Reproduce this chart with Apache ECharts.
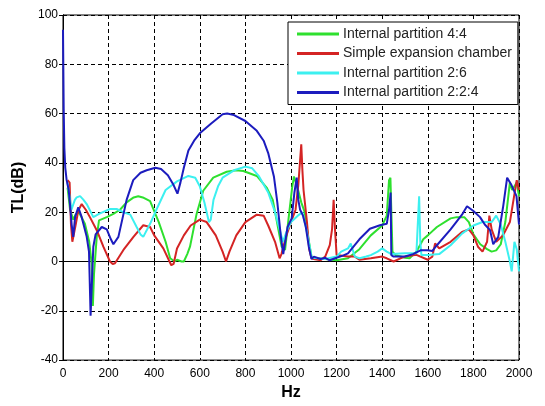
<!DOCTYPE html>
<html><head><meta charset="utf-8">
<script src="https://cdn.jsdelivr.net/npm/echarts@6/dist/echarts.min.js"></script>
<style>html,body{margin:0;padding:0;background:#fff}#c{width:545px;height:406px}</style>
</head><body><div id="c"></div>
<script>
const seriesNames = ['Internal partition 4:4','Simple expansion chamber','Internal partition 2:6','Internal partition 2:2:4'];
const xTicks = [0,200,400,600,800,1000,1200,1400,1600,1800,2000];
const yTicks = [-40,-20,0,20,40,60,80,100];

const green44 = [[20,30],[31,21],[45,17],[55,19],[70,20],[96,15.3],[115,8],[126,-1],[131,-18],[136,-5],[148,10],[158,16.7],[192,18],[221,19.3],[250,21],[279,24],[310,26],[330,26.5],[350,26],[382,24.5],[420,16],[450,8],[470,1.3],[490,0],[500,0.7],[520,0],[530,0],[545,3],[557,6],[586,19.3],[615,28.7],[659,34],[718,36.4],[760,37],[791,36.7],[850,34.7],[893,30],[920,25],[937,16.7],[959,6],[974,4.7],[990,18],[1005,30],[1013,34.5],[1020,34.7],[1032,28.7],[1045,24],[1060,20],[1075,10],[1090,2],[1100,1.5],[1150,1],[1200,0.5],[1250,1.3],[1300,5],[1350,10.6],[1400,14.6],[1420,18.6],[1430,33],[1436,34],[1445,4],[1460,2.5],[1500,1.5],[1520,1.3],[1550,4],[1580,9],[1600,10.6],[1640,14],[1700,17.5],[1727,18],[1760,18],[1780,16],[1800,11],[1830,7],[1860,5],[1880,4],[1900,4.5],[1920,7],[1940,16],[1960,32],[1970,29],[1990,32],[2000,26.5]];

const redSimple = [[20,33],[29,32],[35,15],[41,8],[47,7.3],[55,14.6],[67,20.7],[82,23.3],[100,21],[118,18],[148,12.7],[177,6],[206,0],[218,-1],[228,-0.7],[265,4.7],[309,10],[352,14.7],[382,14],[400,10.6],[440,5.3],[462,1],[475,-1.5],[485,-1],[500,5.3],[530,10.6],[560,14.6],[600,17],[630,16],[670,10.6],[700,4],[715,0],[730,4],[760,10.6],[800,16],[850,19],[880,18.6],[900,14.6],[930,8],[950,1.3],[958,3],[980,10.6],[1000,16],[1020,21],[1032,31],[1045,47.5],[1050,37],[1055,29],[1070,16],[1080,5],[1090,1.3],[1100,1],[1130,0.5],[1150,2],[1170,6.6],[1180,13],[1187,25],[1193,13],[1200,2.6],[1250,2],[1280,2],[1300,0.7],[1350,1.3],[1400,2],[1420,1.3],[1450,0],[1480,1.3],[1500,2],[1550,2.7],[1600,0.7],[1620,2],[1632,7.3],[1640,8],[1650,5.3],[1700,8],[1750,12],[1780,13],[1800,10.6],[1820,6],[1840,4],[1860,8],[1870,18.6],[1880,13],[1900,8],[1930,10.6],[1960,16],[1990,33],[2000,29]];

const cyan26 = [[20,32],[37,21],[52,25],[60,26],[75,26.5],[90,25],[104,23.3],[133,18],[158,19.3],[206,21.3],[235,21.3],[265,20],[295,19],[323,14],[340,11],[352,10],[382,15.3],[411,21.3],[450,29],[500,32.5],[550,34.7],[580,34],[600,30.5],[620,24],[640,16],[648,17],[660,25],[680,30.5],[700,34],[750,37],[800,38.5],[830,37.8],[860,34.5],[900,28],[930,20],[950,13],[965,8],[980,12],[1000,16],[1030,18.6],[1050,20],[1070,12],[1090,2],[1100,1.5],[1150,1],[1200,2],[1220,4],[1250,5.3],[1262,7.3],[1280,2],[1300,1.3],[1330,2],[1350,2.6],[1380,4],[1400,5.3],[1420,4],[1440,3],[1500,3.3],[1550,3.3],[1562,26.5],[1567,8],[1572,2.6],[1600,2.6],[1650,3],[1700,6.6],[1750,11.3],[1800,14.6],[1840,16],[1880,16],[1900,18.6],[1920,15],[1940,8],[1960,0],[1968,-4],[1980,8],[1990,5],[2000,-4]];

const blue224 = [[0,94],[3,62],[6,46],[10,38],[16,33],[25,29],[31,23],[38,15],[45,10],[53,18],[67,22],[82,18],[104,10],[114,4],[121,-22],[127,-8],[133,6],[143,11],[170,14],[192,13],[210,9],[221,7],[243,10],[279,25],[308,33],[340,36],[367,37],[405,38],[430,37.5],[460,35],[485,31],[502,27.5],[515,32],[530,38],[550,45],[575,49],[600,52],[650,56],[700,59.7],[720,60],[750,59.4],[800,57],[850,53],[880,49],[900,44],[925,34.5],[940,24],[955,10.6],[966,3],[985,14],[1003,17.5],[1015,28],[1025,34],[1032,25],[1040,21],[1053,18.5],[1065,14],[1078,6],[1090,1],[1100,2],[1130,1],[1150,1.5],[1170,0.5],[1200,1.5],[1230,2.5],[1250,3.3],[1300,9],[1346,13.3],[1390,14.7],[1420,15.3],[1430,21],[1437,28],[1440,2.6],[1450,2],[1500,2],[1535,3],[1570,4.6],[1600,4.6],[1620,4.3],[1640,6.6],[1700,13],[1750,19],[1772,22.4],[1800,20.5],[1829,18],[1850,15],[1873,12.7],[1887,7],[1909,10],[1930,22],[1948,34],[1967,31],[1989,26.5],[2000,15]];

const dataSets = [green44, redSimple, cyan26, blue224];
const colors = ['#2ee02e','#d42424','#3cf0f0','#1c1cbe'];

const chart = echarts.init(document.getElementById('c'));
const font = 'Liberation Sans, Arial, sans-serif';
const gridLine = {show:true, lineStyle:{color:'#000', type:[4,3], width:1}};
chart.setOption({
  animation:false,
  backgroundColor:'#fff',
  grid:{left:63, right:26, top:15, bottom:41, show:true, borderColor:'#000', borderWidth:1, backgroundColor:'#fff'},
  legend:{
    data:seriesNames, orient:'vertical', left:288, top:22,
    backgroundColor:'#fff', borderColor:'#000', borderWidth:1,
    padding:[5,6,5,9], itemGap:5.5, itemWidth:42, itemHeight:3, icon:'rect',
    textStyle:{fontSize:14, color:'#222', fontFamily:font, padding:[0,0,0,-1]}
  },
  xAxis:[{
    type:'value', min:xTicks[0], max:xTicks[xTicks.length-1], interval:200,
    name:'Hz', nameLocation:'middle', nameGap:24,
    nameTextStyle:{fontSize:16, fontWeight:'bold', color:'#000', fontFamily:font},
    axisLine:{show:true, lineStyle:{color:'#000'}},
    axisTick:{show:true, inside:true, length:4, lineStyle:{color:'#000'}},
    axisLabel:{fontSize:12, color:'#000', margin:8, fontFamily:font, formatter:v=>String(v)},
    splitLine:gridLine
  },{
    type:'value', position:'top', min:xTicks[0], max:xTicks[xTicks.length-1], interval:200,
    axisLine:{show:true, lineStyle:{color:'#000'}},
    axisTick:{show:true, inside:true, length:4, lineStyle:{color:'#000'}},
    axisLabel:{show:false}, splitLine:{show:false}
  }],
  yAxis:[{
    type:'value', min:yTicks[0], max:yTicks[yTicks.length-1], interval:20,
    name:'TL(dB)', nameLocation:'middle', nameGap:34, nameRotate:90,
    nameTextStyle:{fontSize:16, fontWeight:'bold', color:'#000', fontFamily:font},
    axisLine:{show:true, lineStyle:{color:'#000'}},
    axisTick:{show:true, inside:true, length:4, lineStyle:{color:'#000'}},
    axisLabel:{fontSize:12, color:'#000', margin:5, fontFamily:font, formatter:v=>String(v)},
    splitLine:gridLine
  },{
    type:'value', position:'right', min:yTicks[0], max:yTicks[yTicks.length-1], interval:20,
    axisLine:{show:true, lineStyle:{color:'#000'}},
    axisTick:{show:true, inside:true, length:4, lineStyle:{color:'#000'}},
    axisLabel:{show:false}, splitLine:{show:false}
  }],
  series: seriesNames.map((n,i)=>({
    name:n, type:'line', data:dataSets[i], showSymbol:false, symbol:'none',
    lineStyle:{color:colors[i], width:2}, itemStyle:{color:colors[i]},
    z:2+i, xAxisIndex:0, yAxisIndex:0
  }))
});
</script></body></html>
